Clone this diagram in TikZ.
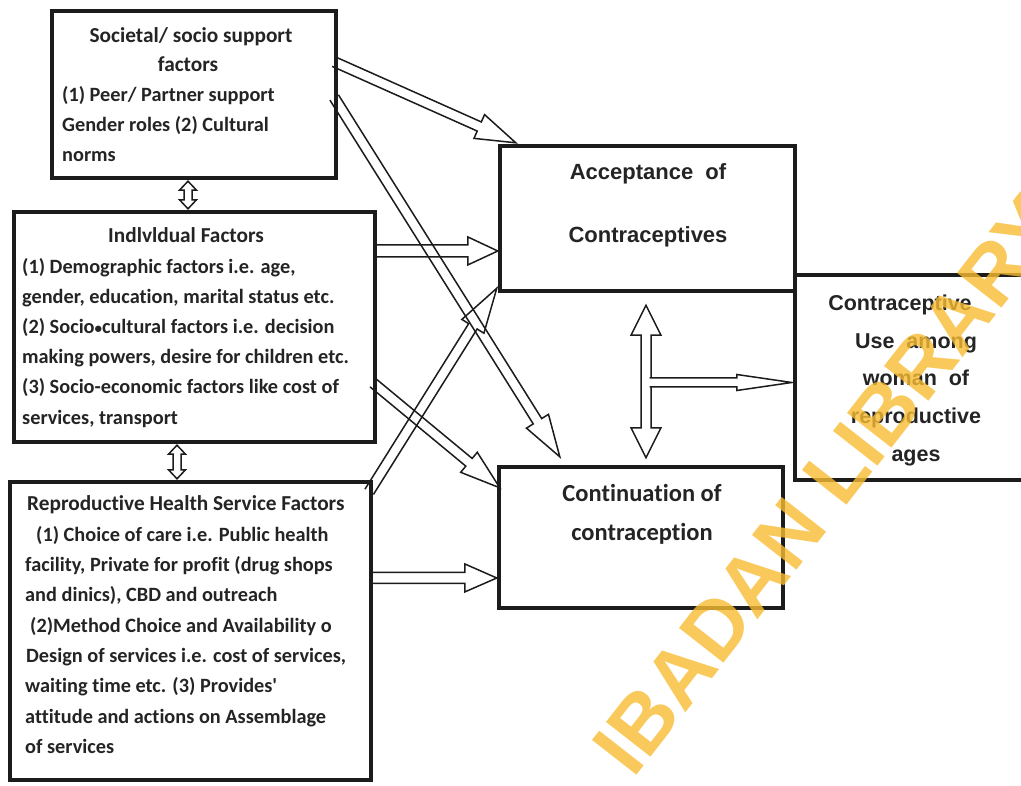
\documentclass[tikz,border=0pt]{standalone}
\usepackage{fontspec}
\setmainfont{Carlito}[Ligatures={NoCommon}]
\newfontfamily\arialfont{Liberation Sans}
\usetikzlibrary{calc}
\definecolor{ink}{RGB}{28,28,28}
\definecolor{txtc}{RGB}{36,36,36}
\definecolor{wmark}{RGB}{248,188,50}
\newcommand\straightquote{{\XeTeXglyph\XeTeXcharglyph"27\relax}}
\newcommand\smallbullet{{\fontsize{15}{15}\selectfont •}}
\tikzset{
  box/.style={draw=ink, line width=4pt, outer sep=0pt, inner sep=0pt},
  arrowline/.style={draw=ink, line width=1.5pt, line join=miter},
  ltxt/.style={font=\fontsize{20.3}{24}\selectfont\bfseries, text=txtc, inner sep=0pt},
  ttxt/.style={font=\fontsize{21.3}{24}\selectfont\bfseries, text=txtc, inner sep=0pt},
  atxt/.style={font=\fontsize{22}{26}\selectfont\arialfont\bfseries, text=txtc, inner sep=0pt, anchor=base},
  utxt/.style={font=\fontsize{21.5}{26}\selectfont\arialfont\bfseries, text=txtc, inner sep=0pt, anchor=base},
  ctxt/.style={font=\fontsize{24.5}{28}\selectfont\bfseries, text=txtc, inner sep=0pt, anchor=base},
  wmtxt/.style={font=\fontsize{82}{82}\selectfont\arialfont\bfseries, text=wmark, opacity=0.8, inner sep=0pt},
}
% single block arrow: [opts]{from}{to}{shaft half}{head half}{head length}
\newcommand\barrow[6][]{%
  \coordinate (ba-s) at #2; \coordinate (ba-e) at #3;
  \coordinate (ba-h) at ($(ba-e)!#6!(ba-s)$);
  \draw[arrowline,#1] ($(ba-s)!#4!90:(ba-e)$) -- ($(ba-h)!#4!90:(ba-e)$) -- ($(ba-h)!#5!90:(ba-e)$) -- (ba-e)
     -- ($(ba-h)!#5!-90:(ba-e)$) -- ($(ba-h)!#4!-90:(ba-e)$) -- ($(ba-s)!#4!-90:(ba-e)$);
}
% double block arrow
\newcommand\dbarrow[6][]{%
  \coordinate (da-s) at #2; \coordinate (da-e) at #3;
  \coordinate (da-h1) at ($(da-e)!#6!(da-s)$);
  \coordinate (da-h0) at ($(da-s)!#6!(da-e)$);
  \draw[arrowline,#1] (da-s) -- ($(da-h0)!#5!90:(da-e)$) -- ($(da-h0)!#4!90:(da-e)$) -- ($(da-h1)!#4!90:(da-e)$)
     -- ($(da-h1)!#5!90:(da-e)$) -- (da-e) -- ($(da-h1)!#5!-90:(da-e)$) -- ($(da-h1)!#4!-90:(da-e)$)
     -- ($(da-h0)!#4!-90:(da-e)$) -- ($(da-h0)!#5!-90:(da-e)$) -- cycle;
}
\begin{document}
\begin{tikzpicture}[x=1pt,y=-1pt]
\useasboundingbox (0,0) rectangle (1021,786);
\fill[white] (0,0) rectangle (1021,786);

% boxes (positions only; drawn later on top of arrow ends)
\path
  (194,94.5)   node[minimum width=284, minimum height=167] (soc) {}
  (194.5,327)  node[minimum width=361, minimum height=230] (ind) {}
  (190.5,631)  node[minimum width=361, minimum height=298] (rhs) {}
  (647.5,218.5) node[minimum width=295, minimum height=145] (acc) {}
  (641,537.5)  node[minimum width=284, minimum height=141] (con) {}
  (912.5,377.5) node[minimum width=235, minimum height=205] (use) {};

% arrows
\barrow{($(soc.north east)+(-2,51)$)}{($(acc.north west)+(16,-3)$)}{5pt}{13pt}{40pt}
\barrow{($(soc.east)+(-2,3)$)}{($(con.north west)+(61,-10)$)}{5pt}{13pt}{42pt}
\barrow{($(ind.north east)+(-2,39)$)}{($(acc.west)+(-2,32.5)$)}{6pt}{14pt}{30pt}
\barrow{($(ind.east)+(-2,56)$)}{($(con.north west)+(1,21)$)}{5pt}{13pt}{40pt}
\barrow{($(rhs.north east)+(-2,10)$)}{($(acc.south west)+(-3,-3)$)}{5pt}{13pt}{45pt}
\barrow{($(rhs.north east)+(-2,96)$)}{($(con.west)+(-2,40.5)$)}{5.5pt}{14pt}{32pt}

\coordinate (vt) at ($(acc.south)+(-1.5,14)$);
\coordinate (vb) at ($(con.north)+(5,-9)$);
\dbarrow{(vt)}{(vb)}{5pt}{15pt}{30pt}
\coordinate (tj) at ($(vt)!0.5!(vb)+(3.5,1)$);
\barrow[fill=white]{(tj)}{($(use.west)+(-3,5)$)}{4.5pt}{8pt}{55pt}

\dbarrow{($(soc.south)+(-6,3)$)}{($(ind.north)+(-6.5,-3)$)}{4pt}{8.5pt}{9pt}
\dbarrow{($(ind.south)+(-17.5,3)$)}{($(rhs.north)+(-13.5,-3)$)}{4pt}{8.5pt}{9pt}

% box outlines
\foreach \b in {soc,ind,rhs,acc,con,use}
  \draw[box] (\b.north west) rectangle (\b.south east);

% texts: societal
\node[ttxt, anchor=base] (soc-t1) at (191,43) {Societal/ socio support};
\node[ttxt, anchor=base] (soc-t2) at (188,72) {factors};
\foreach \t [count=\i] in {{(1) Peer/ Partner support},{Gender roles (2) Cultural},{norms}}
  \node[ltxt, anchor=base west] (soc-l\i) at (62,{72+30*\i}) {\t};

% individual
\node[ttxt, anchor=base] (ind-t) at (186,243) {Indlvldual Factors};
\foreach \t [count=\i] in {{(1) Demographic factors i.e. age,},{gender, education, marital status etc.},{(2) Socio\smallbullet cultural factors i.e. decision},{making powers, desire for children etc.},{(3) Socio-economic factors like cost of},{services, transport}}
  \node[ltxt, anchor=base west] (ind-l\i) at (22,{243+30.2*\i}) {\t};

% reproductive health
\node[ttxt, anchor=base west] (rhs-t) at (27,511) {Reproductive Health Service Factors};
\foreach \t/\xx [count=\i] in {{(1) Choice of care i.e. Public health}/36,{facility, Private for profit (drug shops}/25,{and dinics), CBD and outreach}/25,{(2)Method Choice and Availability o}/30,{Design of services i.e. cost of services,}/26,{waiting time etc. (3) Provides\straightquote}/25,{attitude and actions on Assemblage}/25,{of services}/25}
  \node[ltxt, anchor=base west] (rhs-l\i) at (\xx,{511+30.3*\i}) {\t};

% acceptance
\node[atxt] (acc-1) at (648,180) {Acceptance\ \ of};
\node[atxt] (acc-2) at (648,243) {Contraceptives};

% continuation
\node[ctxt] (con-1) at (642,501) {Continuation of};
\node[ctxt] (con-2) at (642,540) {contraception};

% contraceptive use
\node[utxt] (use-1) at (900,311) {Contraceptive};
\foreach \t [count=\i] in {{Use\ \ among},{woman\ \ of},reproductive,ages}
  \node[utxt] (use-\i x) at (916,{311+37.5*\i}) {\t};

% watermark
\node[wmtxt, rotate=52, anchor=base] (wm) at (850,502) {IBADAN LIBRARY};
\end{tikzpicture}
\end{document}
